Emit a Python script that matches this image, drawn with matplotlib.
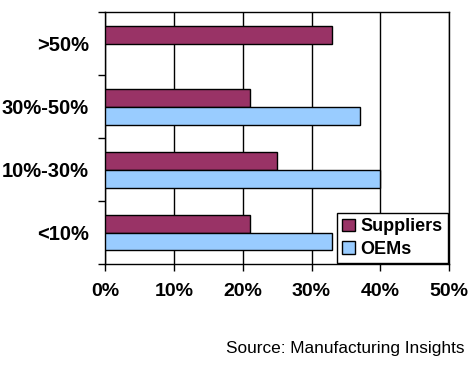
import numpy as np
import matplotlib.pyplot as plt

# data (bottom to top)
categories = ['<10%', '10%-30%', '30%-50%', '>50%']
suppliers = [21, 25, 21, 33]
oems = [33, 40, 37, np.nan]  # no OEM bar for >50%
x_ticks = [0, 10, 20, 30, 40, 50]

plt.rcParams['font.family'] = ['Liberation Sans', 'DejaVu Sans']

fig = plt.figure(figsize=(4.75, 3.75), dpi=100)
ax = fig.add_axes([0.222, 0.296, 0.723, 0.671])

y = np.arange(len(categories))
h = 0.285
ax.barh(y + h / 2, suppliers, height=h, color='#993366', edgecolor='black',
        linewidth=1, label='Suppliers', zorder=3)
ax.barh(y - h / 2, np.array(oems, dtype=float), height=h, color='#99CCFF',
        edgecolor='black', linewidth=1, label='OEMs', zorder=3)

ax.set_xlim(0, 50)
ax.set_ylim(-0.5, len(categories) - 0.5)

# x axis
ax.set_xticks(x_ticks)
ax.set_xticklabels([f'{v}%' for v in x_ticks], fontsize=14, fontweight='bold')
ax.tick_params(axis='x', length=5, width=1, pad=9, direction='out')
ax.grid(axis='x', color='black', linewidth=1, zorder=0)

# y axis: labels centred, ticks on boundaries
ax.set_yticks(y)
ax.set_yticklabels(categories, fontsize=14.5, fontweight='bold')
ax.tick_params(axis='y', which='major', length=0, pad=12)
ax.set_yticks(np.arange(-0.5, len(categories), 1.0), minor=True)
ax.tick_params(axis='y', which='minor', length=5, width=1, direction='out')

for s in ax.spines.values():
    s.set_color('black')
    s.set_linewidth(1)

leg = ax.legend(loc='lower right', frameon=True, fancybox=False,
                borderaxespad=0.05, handlelength=0.7, handleheight=0.7,
                handletextpad=0.3, borderpad=0.3, labelspacing=0.3,
                prop={'weight': 'bold', 'size': 13})
leg.get_frame().set_edgecolor('black')
leg.get_frame().set_linewidth(1)
leg.get_frame().set_alpha(1)

fig.text(0.978, 0.072, 'Source: Manufacturing Insights', ha='right',
         va='center', fontsize=12.4)

fig.savefig('out.png', dpi=100)
